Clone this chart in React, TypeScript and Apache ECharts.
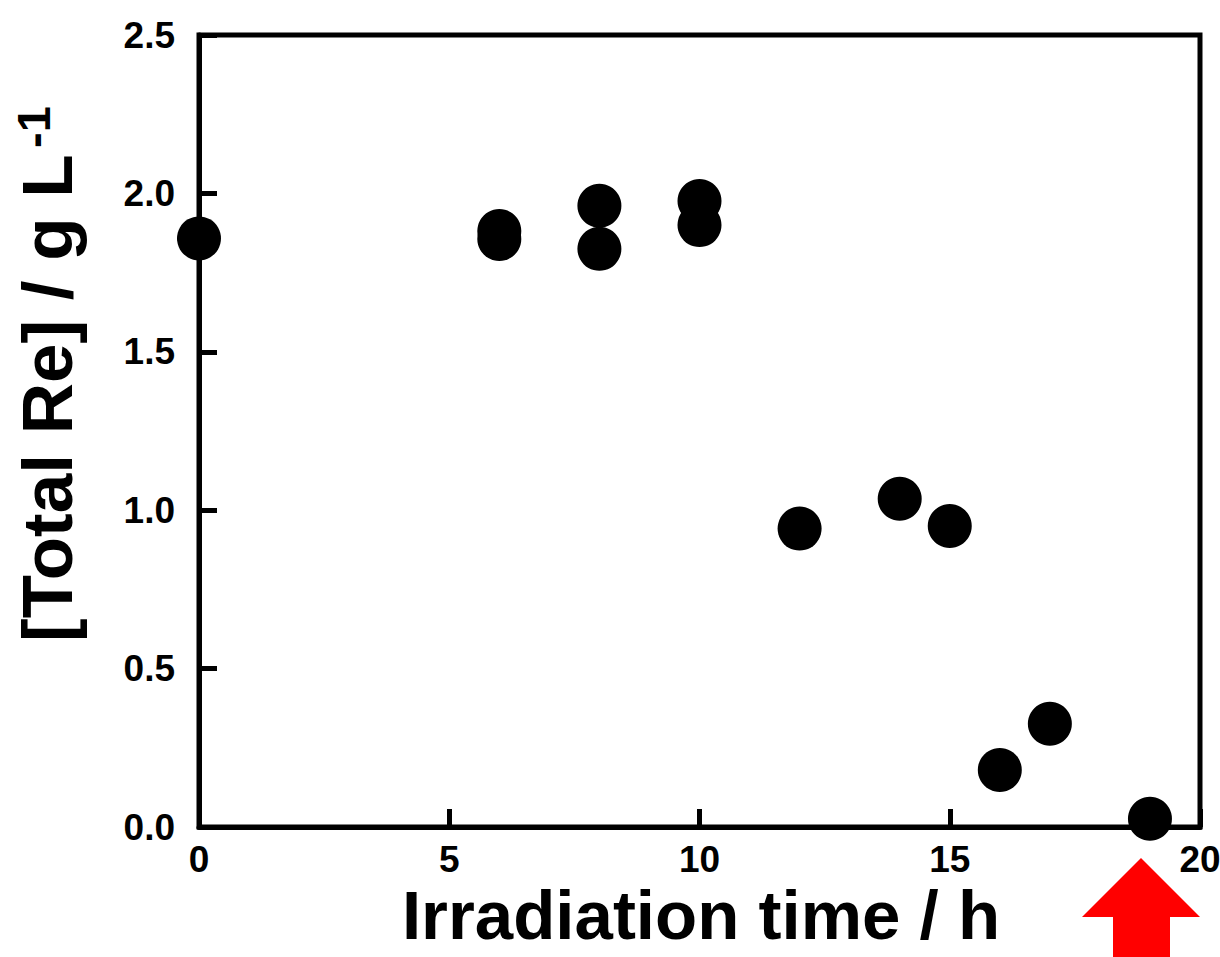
import React, { useEffect, useRef } from "react";
import * as echarts from "echarts";

const timeH = [0, 6, 6, 8, 8, 10, 10, 12, 14, 15, 16, 17, 19];
const totalRe = [1.858, 1.881, 1.856, 1.961, 1.825, 1.976, 1.9, 0.942, 1.036, 0.95, 0.18, 0.326, 0.026];
const xTickRange = { min: 0, max: 20, interval: 5 };
const yTickRange = { min: 0, max: 2.5, interval: 0.5 };
const xTitle = "Irradiation time / h";
const yTitleMain = "[Total Re] / g L";
const yTitleSup = "-1";

const FONT = '"Liberation Sans", Arial, sans-serif';

export default function App() {
  const ref = useRef<HTMLDivElement>(null);
  useEffect(() => {
    if (!ref.current) return;
    const chart = echarts.init(ref.current, null, { renderer: "svg" });
    const data = timeH.map((t, i) => [t, totalRe[i]]);
    chart.setOption({
      animation: false,
      backgroundColor: "#ffffff",
      grid: {
        left: 199,
        top: 35,
        right: 20,
        bottom: 130,
        containLabel: false,
        outerBoundsMode: "none",
        show: true,
        borderColor: "#000",
        borderWidth: 5,
        backgroundColor: "transparent",
      },
      xAxis: {
        type: "value",
        ...xTickRange,
        splitLine: { show: false },
        axisLine: { show: true, onZero: false, lineStyle: { color: "#000", width: 5 } },
        axisTick: { show: true, inside: true, length: 18, lineStyle: { color: "#000", width: 5 } },
        axisLabel: {
          margin: 14,
          color: "#000",
          fontFamily: FONT,
          fontWeight: "bold",
          fontSize: 37,
        },
      },
      yAxis: {
        type: "value",
        ...yTickRange,
        splitLine: { show: false },
        axisLine: { show: true, onZero: false, lineStyle: { color: "#000", width: 5 } },
        axisTick: { show: true, inside: true, length: 18, lineStyle: { color: "#000", width: 5 } },
        axisLabel: {
          margin: 24,
          color: "#000",
          fontFamily: FONT,
          fontWeight: "bold",
          fontSize: 37,
          formatter: (v: number) => v.toFixed(1),
        },
      },
      series: [
        {
          type: "scatter",
          data,
          symbol: "circle",
          symbolSize: 44,
          clip: false,
          itemStyle: { color: "#000", opacity: 1 },
          z: 3,
        },
      ],
      graphic: [
        {
          type: "text",
          x: 701,
          y: 915,
          style: {
            text: xTitle,
            font: `bold 69px ${FONT}`,
            fill: "#000",
            textAlign: "center",
            textVerticalAlign: "middle",
          },
        },
        {
          type: "text",
          x: 47,
          y: 642,
          rotation: Math.PI / 2,
          style: {
            text: yTitleMain,
            font: `bold 71px ${FONT}`,
            fill: "#000",
            textAlign: "left",
            textVerticalAlign: "middle",
          },
        },
        {
          type: "text",
          x: 33,
          y: 148,
          rotation: Math.PI / 2,
          style: {
            text: yTitleSup,
            font: `bold 47px ${FONT}`,
            fill: "#000",
            textAlign: "left",
            textVerticalAlign: "middle",
          },
        },
        {
          type: "polygon",
          shape: {
            points: [
              [1141, 858],
              [1200, 917],
              [1170, 917],
              [1170, 957],
              [1113, 957],
              [1113, 917],
              [1082, 917],
            ],
          },
          style: { fill: "#ff0000" },
        },
      ],
    });
    return () => chart.dispose();
  }, []);
  return (
    <div
      ref={ref}
      style={{ position: "fixed", left: 0, top: 0, width: 1220, height: 957, background: "#fff" }}
    />
  );
}
